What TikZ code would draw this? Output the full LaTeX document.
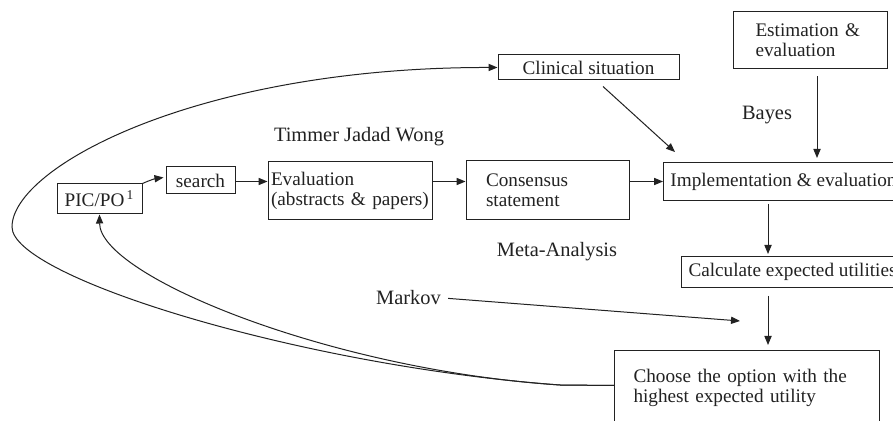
\documentclass[tikz,border=0pt]{standalone}
\usepackage{fontspec}
\setmainfont{Liberation Serif}
\usetikzlibrary{arrows.meta,calc}
\definecolor{ink}{HTML}{222222}
\begin{document}
\begin{tikzpicture}[x=0.5pt,y=-0.5pt,
  every node/.style={text=ink},
  box/.style={draw=ink,line width=0.5pt,inner sep=0pt,font=\fontsize{9.6}{10}\selectfont},
  lbl/.style={font=\fontsize{10.2}{12}\selectfont,inner sep=1pt},
  arr/.style={draw=ink,line width=0.5pt,-{Triangle[length=4.5pt,width=3.6pt]}},
  ln/.style={draw=ink,line width=0.5pt}]
\clip (0,0) rectangle (893,421);
\fill[white] (0,0) rectangle (893,421);
% boxes
\node[box,minimum width=77pt,minimum height=28.5pt,text width=54.5pt,align=left] (est) at (810,40.5) {Estimation \&\\evaluation};
\node[box,minimum width=90.5pt,minimum height=12.5pt] (clin) at (588.5,67.5) {Clinical situation};
\node[box,minimum width=120pt,minimum height=19pt,anchor=north west] (impl) at (663,162) {Implementation \& evaluation};
\node[box,minimum width=111pt,minimum height=15.5pt,anchor=north west] (calc) at (681,256) {Calculate expected utilities};
\node[box,minimum width=132.5pt,minimum height=37pt,text width=113.5pt,align=left,anchor=north west] (choose) at (614,350) {Choose the option with the\\highest expected utility};
\node[box,minimum width=81.5pt,minimum height=29.5pt,text width=61.5pt,align=left] (cons) at (547.5,190.5) {Consensus\\statement};
\node[box,minimum width=82pt,minimum height=29pt,text width=79pt,align=left] (eval) at (350,191) {Evaluation\\(abstracts \&~papers)};
\node[box,minimum width=34.5pt,minimum height=13.5pt] (search) at (200.5,180.5) {search};
\node[box,minimum width=42.5pt,minimum height=15pt] (pic) at (99.5,199) {PIC/PO\textsuperscript{\,1}};
% labels
\node[lbl] (tjw) at (359,137) {Timmer Jadad Wong};
\node[lbl] (bayes) at (767,115) {Bayes};
\node[lbl] (meta) at (557,252) {Meta-Analysis};
\node[lbl] (markov) at (408.5,298) {Markov};
% helper coordinates
\coordinate (bx) at (817,0);
\coordinate (vx) at (768,0);
\coordinate (mk) at (740,321);
% connectors
\draw[arr] (pic.north east) to[bend left=8] ($(search.west)+(-2,-3)$);
\draw[arr] (search.east |- impl.west) -- (eval.west |- impl.west);
\draw[arr] (eval.east |- impl.west) -- (cons.west |- impl.west);
\draw[arr] (cons.east |- impl.west) -- (impl.west);
\draw[arr] ($(clin.south)+(14.5,6)$) -- ($(impl.north west)+(12,-10)$);
\draw[arr,shorten <=3.5pt,shorten >=2pt] (bx |- est.south) -- (bx |- impl.north);
\draw[arr,shorten <=1.5pt,shorten >=1pt] (vx |- impl.south) -- (vx |- calc.north);
\draw[arr,shorten <=4pt,shorten >=2.5pt] (vx |- calc.south) -- (vx |- choose.north);
\draw[arr,shorten <=2.5pt] (markov.east) -- (mk);
\draw[arr] ($(choose.west)+(0,-2)$) -- (560,385) .. controls (330,370) and (100,276) .. (pic.south);
\draw[arr] ($(choose.west)+(0,-2)$) -- (560,385) .. controls (300,366) and (12,277) .. (12,227) .. controls (12,167) and (198,67) .. (clin.west);
\end{tikzpicture}
\end{document}
